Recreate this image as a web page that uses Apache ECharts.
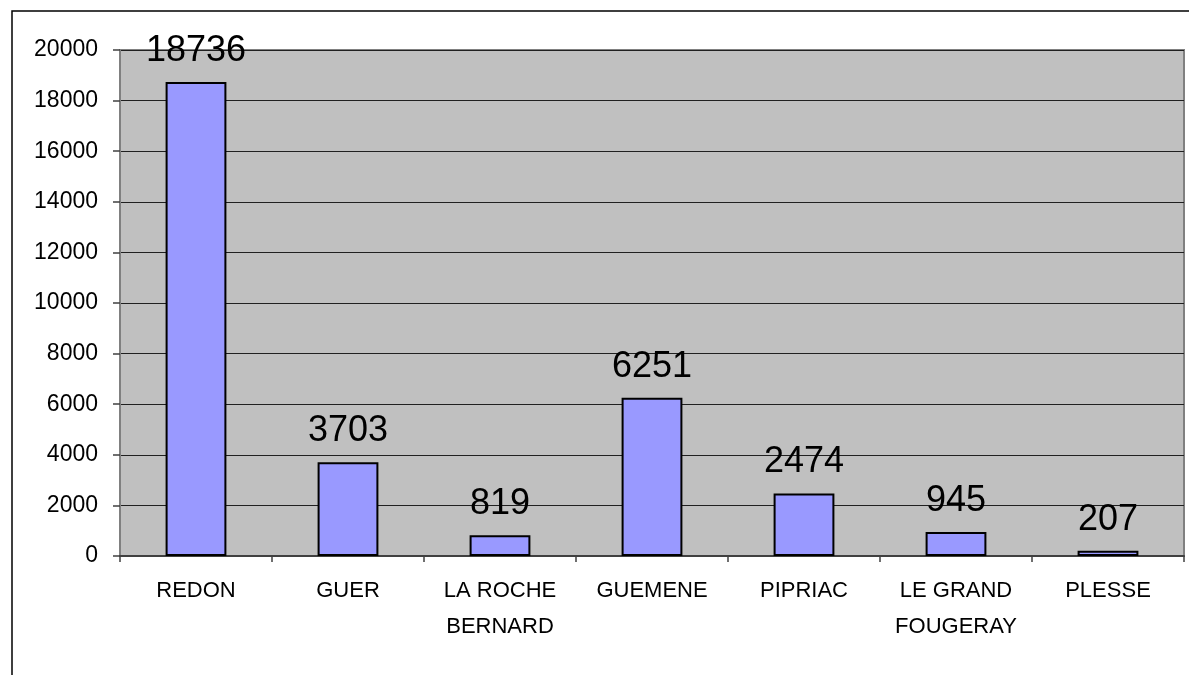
<!DOCTYPE html>
<html>
<head>
<meta charset="utf-8">
<script src="https://cdn.jsdelivr.net/npm/echarts@6/dist/echarts.min.js"></script>
<style>
  html, body { margin: 0; padding: 0; background: #fff; }
  #main { width: 1189px; height: 675px; }
</style>
</head>
<body>
<div id="main"></div>
<script>
var categories = ["REDON", "GUER", "LA ROCHE\nBERNARD", "GUEMENE", "PIPRIAC", "LE GRAND\nFOUGERAY", "PLESSE"];
var values = [18736, 3703, 819, 6251, 2474, 945, 207];

var myChart = echarts.init(document.getElementById("main"));
myChart.setOption({
  animation: false,
  textStyle: { fontFamily: "Liberation Sans, Arial, sans-serif" },
  // cadre extérieur
  graphic: [
    {
      type: "rect",
      shape: { x: 12, y: 11, width: 1400, height: 900 },
      style: { fill: "none", stroke: "#000", lineWidth: 1.5 },
      silent: true
    }
  ],
  grid: {
    left: 120,
    top: 50,
    right: 5,
    bottom: 119,
    show: true,
    backgroundColor: "#C0C0C0",
    borderColor: "#808080",
    borderWidth: 2
  },
  xAxis: {
    type: "category",
    data: categories,
    axisLine: { lineStyle: { color: "#404040", width: 2 } },
    axisTick: { show: true, length: 6, lineStyle: { color: "#404040", width: 1.5 } },
    axisLabel: { color: "#000", fontSize: 22, lineHeight: 36, margin: 17, interval: 0 }
  },
  yAxis: {
    type: "value",
    min: 0,
    max: 20000,
    interval: 2000,
    axisLine: { show: true, lineStyle: { color: "#808080", width: 2 } },
    axisTick: { show: true, length: 7, lineStyle: { color: "#404040", width: 1.5 } },
    axisLabel: {
      color: "#000",
      fontSize: 23,
      margin: 22,
      formatter: function (v) { return String(v); }
    },
    splitLine: { lineStyle: { color: "#202020", width: 1 } }
  },
  series: [
    {
      type: "bar",
      data: values,
      barWidth: "40%",
      itemStyle: { color: "#9999FF", borderColor: "#000", borderWidth: 2 },
      label: {
        show: true,
        position: "top",
        distance: 13,
        fontSize: 36,
        color: "#000"
      }
    }
  ]
});
</script>
</body>
</html>
